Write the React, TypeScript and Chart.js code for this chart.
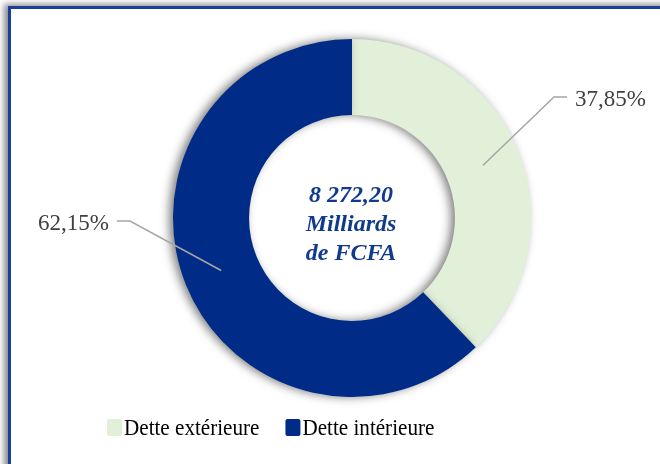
import React, { useEffect, useRef } from "react";
import { Chart, registerables } from "chart.js";

Chart.register(...registerables);

const categories = ["Dette extérieure", "Dette intérieure"];
const shares = [37.85, 62.15];
const shareLabels = ["37,85%", "62,15%"];
const colors = ["#E2F0D9", "#002C88"];
const centerLines = ["8 272,20", "Milliards", "de FCFA"];

const shadowPlugin = {
  id: "ringShadow",
  beforeDatasetsDraw(chart: any) {
    const ctx = chart.ctx;
    ctx.save();
    ctx.shadowColor = "rgba(0,0,0,0.5)";
    ctx.shadowBlur = 10;
    ctx.shadowOffsetX = -4;
    ctx.shadowOffsetY = 0;
  },
  afterDatasetsDraw(chart: any) {
    chart.ctx.restore();
  },
};

// elbow offsets of leader lines relative to the doughnut centre (layout only)
const elbows = [
  { dx: 202, dy: -121, dir: 1 },
  { dx: -222, dy: 3, dir: -1 },
];

const annotPlugin = {
  id: "annot",
  afterDraw(chart: any) {
    const ctx = chart.ctx;
    const meta = chart.getDatasetMeta(0);
    let cx = 0;
    let cy = 0;
    meta.data.forEach((arc: any, i: number) => {
      const p = arc.getProps(["x", "y", "startAngle", "endAngle", "innerRadius", "outerRadius"], true);
      cx = p.x;
      cy = p.y;
      const mid = (p.startAngle + p.endAngle) / 2;
      const r = (p.innerRadius + p.outerRadius) / 2;
      const sx = p.x + Math.cos(mid) * r;
      const sy = p.y + Math.sin(mid) * r;
      const e = elbows[i];
      const ex = p.x + e.dx;
      const ey = p.y + e.dy;
      const hx = ex + e.dir * 13;
      ctx.save();
      ctx.strokeStyle = "#A6A6A6";
      ctx.lineWidth = 1.5;
      ctx.beginPath();
      ctx.moveTo(sx, sy);
      ctx.lineTo(ex, ey);
      ctx.lineTo(hx, ey);
      ctx.stroke();
      ctx.font = "24px 'Liberation Serif'";
      ctx.fillStyle = "#404040";
      ctx.textBaseline = "alphabetic";
      ctx.textAlign = e.dir > 0 ? "left" : "right";
      ctx.translate(hx + e.dir * 8, ey + 9);
      ctx.scale(0.96, 1);
      ctx.fillText(shareLabels[i], 0, 0);
      ctx.restore();
    });

    // centre text
    ctx.save();
    ctx.font = "italic bold 24px 'Liberation Serif'";
    ctx.fillStyle = "#0F3A8E";
    ctx.textAlign = "center";
    ctx.textBaseline = "alphabetic";
    centerLines.forEach((t, i) => {
      ctx.fillText(t, cx - 1, cy - 16 + i * 29);
    });
    ctx.restore();

    // legend
    ctx.save();
    ctx.font = "24px 'Liberation Serif'";
    ctx.textBaseline = "alphabetic";
    ctx.textAlign = "left";
    const sxScale = 0.88;
    let x = 107;
    categories.forEach((c, i) => {
      ctx.fillStyle = colors[i];
      ctx.beginPath();
      (ctx as any).roundRect(x, 419, 15, 17, 2);
      ctx.fill();
      ctx.fillStyle = "#000000";
      const tx = x + 17;
      ctx.save();
      ctx.translate(tx, 435);
      ctx.scale(sxScale, 1);
      ctx.fillText(c, 0, 0);
      ctx.restore();
      x = tx + ctx.measureText(c).width * sxScale + 26;
    });
    ctx.restore();
  },
};

export default function App() {
  const ref = useRef<HTMLCanvasElement>(null);
  useEffect(() => {
    const chart = new Chart(ref.current as HTMLCanvasElement, {
      type: "doughnut",
      data: {
        labels: categories,
        datasets: [{ data: shares, backgroundColor: colors, borderWidth: 0 }],
      },
      options: {
        responsive: false,
        animation: false,
        cutout: "57.5%",
        layout: { padding: { top: 39, bottom: 67, left: 100, right: 56 } },
        plugins: { legend: { display: false }, tooltip: { enabled: false } },
      } as any,
      plugins: [shadowPlugin, annotPlugin],
    });
    return () => chart.destroy();
  }, []);
  return (
    <div
      style={{
        position: "fixed",
        left: 0,
        top: 0,
        width: 660,
        height: 464,
        overflow: "hidden",
        background: "#ffffff",
      }}
    >
      <div
        style={{
          position: "absolute",
          left: 8,
          top: 6,
          width: 720,
          height: 520,
          border: "3px solid #1A3E9C",
          boxShadow: "-4px -2px 6px rgba(0,0,0,0.45)",
          background: "#ffffff",
        }}
      />
      <canvas
        ref={ref}
        width={660}
        height={464}
        style={{ position: "absolute", left: 0, top: 0 }}
      />
    </div>
  );
}
